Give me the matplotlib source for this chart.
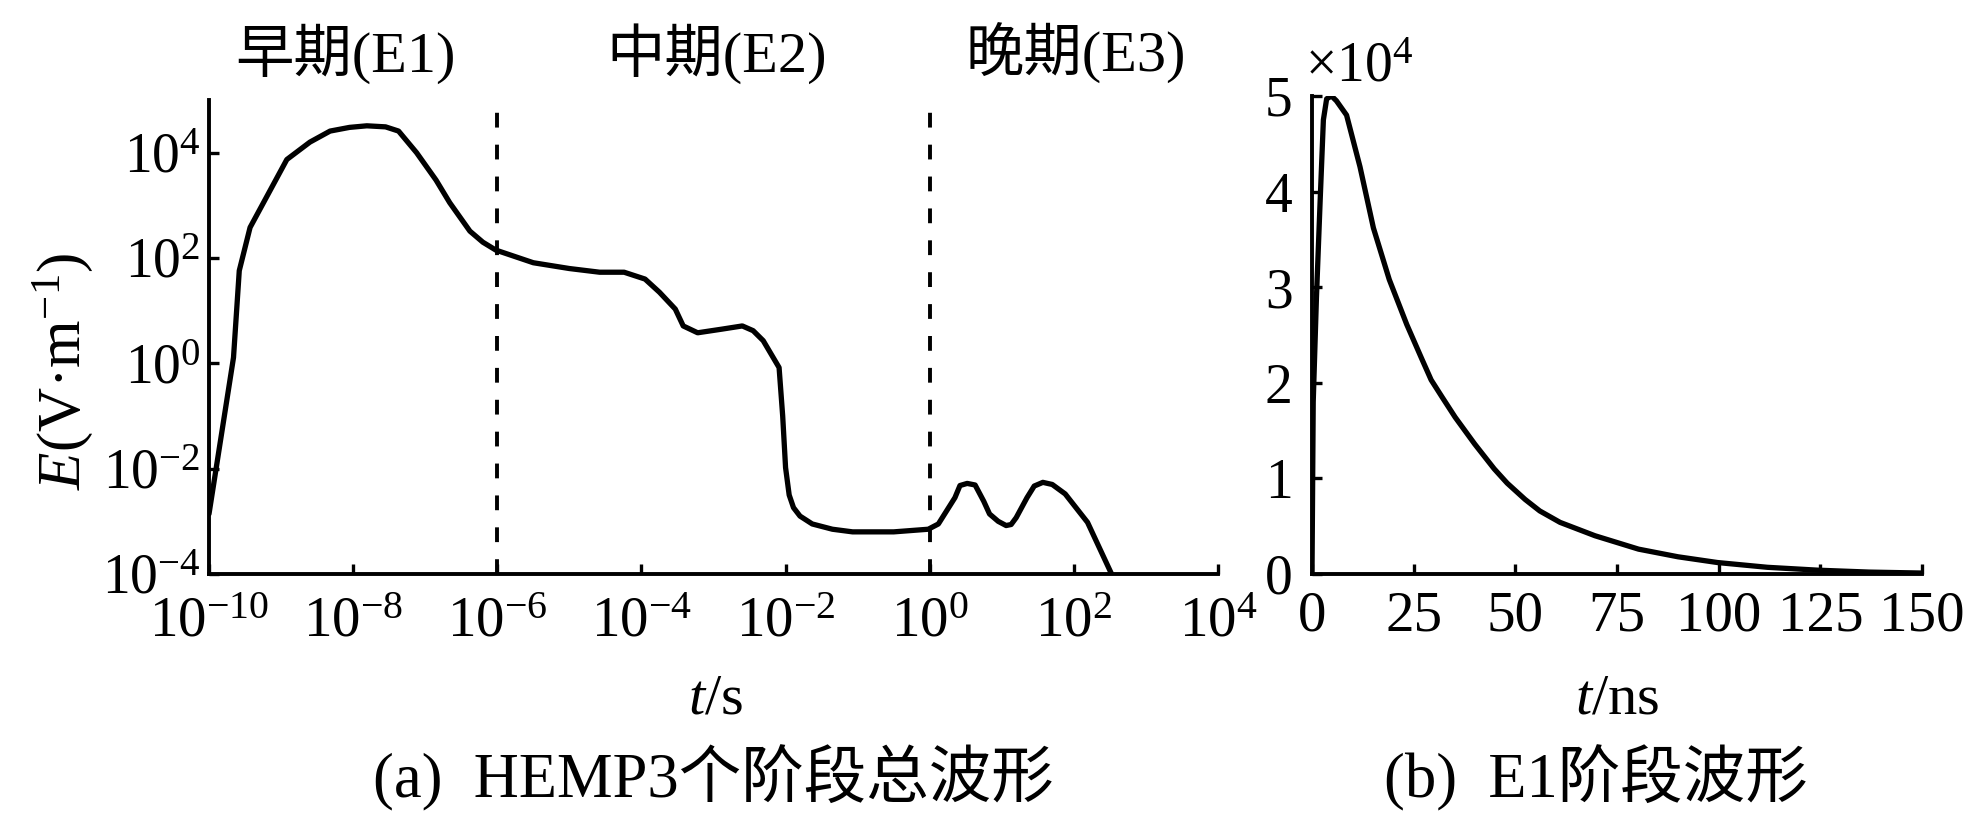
import matplotlib
matplotlib.use("Agg")
import matplotlib.pyplot as plt
import numpy as np
from matplotlib.ticker import FixedLocator, NullLocator, LogFormatterMathtext

# ---- data ----
# (a) whole HEMP waveform, stored as log10 values
t_log = [-10.0, -9.66, -9.58, -9.43, -8.92, -8.60, -8.32, -8.05, -7.81, -7.55,
         -7.37, -7.12, -6.85, -6.66, -6.38, -6.20, -6.02, -5.50, -5.00, -4.58,
         -4.24, -3.95, -3.75, -3.53, -3.42, -3.22, -2.88, -2.60, -2.45, -2.31,
         -2.09, -2.04, -2.00, -1.95, -1.89, -1.80, -1.63, -1.35, -1.07, -0.50,
         -0.02, 0.12, 0.35, 0.42, 0.52, 0.63, 0.75, 0.83, 0.95, 1.06,
         1.13, 1.20, 1.35, 1.45, 1.57, 1.70, 1.88, 2.19, 2.53]
e_log = [-2.86, 0.11, 1.76, 2.58, 3.87, 4.20, 4.41, 4.48, 4.51, 4.49,
         4.41, 4.00, 3.48, 3.05, 2.51, 2.30, 2.15, 1.91, 1.80, 1.73,
         1.73, 1.60, 1.35, 1.03, 0.71, 0.58, 0.65, 0.71, 0.62, 0.43,
         -0.08, -1.00, -1.98, -2.50, -2.74, -2.90, -3.05, -3.15, -3.20, -3.20,
         -3.15, -3.05, -2.55, -2.32, -2.28, -2.31, -2.62, -2.86, -3.00, -3.08,
         -3.06, -2.93, -2.55, -2.33, -2.26, -2.30, -2.48, -3.02, -4.02]
stage_bounds = [1e-6, 1e0]
stage_names = ["早期(E1)", "中期(E2)", "晚期(E3)"]

# (b) E1 stage waveform, t in ns, E in 1e4 V/m
t_ns = [0, 0.3, 1.1, 2.0, 2.8, 3.6, 4.8, 6.0, 8.5, 11.8, 15.1, 19.0, 23.3,
        27.0, 29.3, 32.0, 35.2, 40.0, 44.8, 48.0, 52.4, 56.0, 61.0, 69.6,
        80.3, 90.0, 99.7, 112.0, 124.4, 137.0, 150.0]
e_e1 = [0, 1.8, 2.9, 3.9, 4.75, 4.97, 5.0, 4.95, 4.8, 4.26, 3.62, 3.08, 2.61,
        2.25, 2.03, 1.85, 1.64, 1.36, 1.10, 0.95, 0.78, 0.66, 0.54, 0.40,
        0.26, 0.18, 0.12, 0.07, 0.04, 0.02, 0.01]

W, H = 1966, 816
plt.rcParams.update({
    "font.family": ["Liberation Serif", "Noto Sans CJK SC"],
    "mathtext.fontset": "custom",
    "mathtext.rm": "Liberation Serif",
    "mathtext.it": "Liberation Serif:italic",
    "font.size": 40,
    "axes.linewidth": 2.8,
    "xtick.direction": "in",
    "ytick.direction": "in",
    "xtick.major.size": 7,
    "ytick.major.size": 7,
    "xtick.major.width": 2.4,
    "ytick.major.width": 2.4,
})


def px(x, y):
    return x / W, 1 - y / H


fig = plt.figure(figsize=(W / 100, H / 100), dpi=100)

# ---- (a) ----
ax1 = fig.add_axes([209 / W, 1 - 574 / H, 1009 / W, 474 / H])
ax1.plot(10.0 ** np.array(t_log), 10.0 ** np.array(e_log), color="black",
         lw=3.8, solid_joinstyle="round", solid_capstyle="round")
for b in stage_bounds:
    ax1.axvline(b, color="black", lw=2.8, dashes=(3.8, 4.4))
ax1.set_xscale("log")
ax1.set_yscale("log")
ax1.set_xlim(1e-10, 1e4)
ax1.set_ylim(1e-4, 1e5)
ax1.xaxis.set_major_locator(FixedLocator(10.0 ** np.arange(-10, 5, 2)))
ax1.yaxis.set_major_locator(FixedLocator(10.0 ** np.arange(-4, 5, 2)))
ax1.xaxis.set_major_formatter(LogFormatterMathtext())
ax1.yaxis.set_major_formatter(LogFormatterMathtext())
ax1.xaxis.set_minor_locator(NullLocator())
ax1.yaxis.set_minor_locator(NullLocator())
ax1.tick_params(axis="x", pad=16, labelsize=41)
ax1.tick_params(axis="y", pad=6, labelsize=40)
for s in ("top", "right"):
    ax1.spines[s].set_visible(False)

fig.text(*px(63, 371), r"$E$(V·m$^{-1}$)", rotation=90, fontsize=44,
         ha="center", va="center")
fig.text(*px(716, 713), r"$t$/s", fontsize=42, ha="center", va="baseline")
fig.text(*px(713, 797), "(a)  HEMP3个阶段总波形", fontsize=45,
         ha="center", va="baseline")
for name, xc in zip(stage_names, [345, 717, 1076]):
    fig.text(*px(xc, 72), name, fontsize=42, ha="center", va="baseline")

# ---- (b) ----
ax2 = fig.add_axes([1312 / W, 1 - 574 / H, 610 / W, 478 / H])
ax2.plot(t_ns, e_e1, color="black", lw=3.8, solid_joinstyle="round")
ax2.set_xlim(0, 150)
ax2.set_ylim(0, 5)
ax2.set_xticks(np.arange(0, 151, 25))
ax2.set_yticks(np.arange(0, 6, 1))
ax2.tick_params(axis="x", pad=12, labelsize=41)
ax2.tick_params(axis="y", pad=14, labelsize=40)
for s in ("top", "right"):
    ax2.spines[s].set_visible(False)

fig.text(*px(1305, 82), r"$\times10^{4}$", fontsize=40, ha="left",
         va="baseline")
fig.text(*px(1617, 713), r"$t$/ns", fontsize=42, ha="center", va="baseline")
fig.text(*px(1596, 797), "(b)  E1阶段波形", fontsize=45, ha="center",
         va="baseline")

fig.savefig("out.png", dpi=100)
